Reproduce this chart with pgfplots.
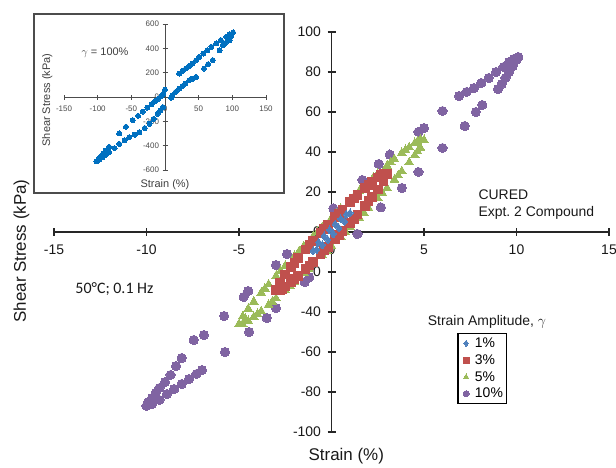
\documentclass[border=0pt]{standalone}
\usepackage{pgfplots}
\pgfplotsset{compat=1.18}
\usepackage{fontspec}
\setmainfont{Liberation Sans}
\newfontfamily\calibri{Carlito}
\definecolor{c1}{HTML}{4F81BD}
\definecolor{c3}{HTML}{C0504D}
\definecolor{c5}{HTML}{9BBB59}
\definecolor{c10}{HTML}{8064A2}
\definecolor{cin}{HTML}{0070C0}
\begin{document}
\begin{tikzpicture}
\path[use as bounding box] (-54bp,-36bp) rectangle (562bp,432bp);
\begin{axis}[
  at={(0,0)}, anchor=south west,
  scale only axis, width=555bp, height=400bp,
  xmin=-15, xmax=15, ymin=-100, ymax=100,
  axis lines=middle, axis line style={-, line width=1.5bp, black!85},
  hide obscured x ticks=false, hide obscured y ticks=false,
  xtick={-15,-10,...,15}, ytick={-100,-80,...,100},
  tick align=center, major tick length=8bp,
  tick style={line width=1.2bp, black!85},
  ticklabel style={font=\fontsize{14}{16}\selectfont, text=black!90},
  xticklabel style={yshift=-5bp},
  yticklabel style={xshift=-3bp},
  /pgf/number format/assume math mode=true,
  clip=false,
  legend style={at={(axis cs:6.8,-50.6)}, anchor=north west, draw=black, line width=1.2bp, fill=white,
    font=\fontsize{14}{15}\selectfont, inner xsep=2pt, inner ysep=2pt, row sep=1.6pt, cells={anchor=west}},
  legend image code/.code={\path (0cm,0cm) (0.42cm,0cm); \draw[#1, mark size=3bp] plot coordinates {(0.2cm,0cm)};},
  legend cell align=left,
  reverse legend,
]
\addplot[only marks, mark=*, mark size=4.6bp, mark options={draw=c10, fill=c10, line width=0pt}] coordinates {
(-10,-87) (-9.9,-85) (-9.7,-83) (-9.5,-80.5) (-9.3,-78) (-9.0,-75) (-8.7,-71.5) (-8.4,-67) (-8.1,-63)
(-7.45,-54) (-6.9,-51.5) (-5.8,-42) (-4.75,-32.5) (-4.5,-29.5) (-3.0,-16.5) (-2.4,-11) (0.1,11.8)
(1.67,26) (2.55,34) (3.15,38.7) (4.7,50) (5.0,52) (6.0,60.5) (6.9,68) (7.3,70) (7.7,72) (8.1,74.5)
(8.5,77) (8.9,80) (9.3,82.5) (9.6,85) (9.85,86.5) (10.1,87.5)
(10,86) (9.8,83) (9.6,80) (9.4,77) (9.2,74) (9.0,71.5) (8.15,63.5) (7.8,60) (7.2,53) (6.0,42) (4.7,30)
(3.8,22) (2.67,12.3) (1.4,-1) (-1.2,-22.6) (-1.45,-25) (-3.0,-38) (-3.5,-43) (-4.45,-50) (-5.76,-60)
(-7.0,-69) (-7.3,-71) (-7.7,-73.5) (-8.1,-76) (-8.5,-78.5) (-8.9,-81) (-9.3,-84) (-9.7,-86)
};
\addlegendentry{10\%}
\addplot[only marks, mark=triangle*, mark size=5bp, mark options={draw=c5, fill=c5, line width=0pt}] coordinates {
(-5,-46) (-4.8,-42.2) (-4.5,-38.4) (-4.2,-34.8) (-3.8,-30.4) (-3.4,-26.2) (-3.0,-22) (-2.5,-16.9)
(-2.0,-12) (-1.5,-7.1) (-1.0,-2.3) (-0.5,2.4) (0,7) (0.5,11.6) (1.0,16.1) (1.5,20.5) (2.0,24.8)
(2.5,29.1) (3.0,33.2) (3.4,36.4) (3.8,39.6) (4.2,42.4) (4.5,44.5) (4.8,46.2) (5,46)
(4.8,42.2) (4.5,38.4) (4.2,34.8) (3.8,30.4) (3.4,26.2) (3.0,22) (2.5,16.9) (2.0,12) (1.5,7.1)
(1.0,2.3) (0.5,-2.4) (0,-7) (-0.5,-11.6) (-1,-16.1) (-1.5,-20.5) (-2,-24.8) (-2.5,-29.1) (-3,-33.2)
(-3.4,-36.4) (-3.8,-39.6) (-4.2,-42.4) (-4.5,-44.5) (-4.8,-46.2)
(-4.65,-43.5) (-3.6,-28.3) (-2.75,-19.5) (-1.75,-9.6) (-0.75,0) (0.25,9.3) (1.25,18.3) (2.25,27) (3.2,34.8) (4.0,41) (4.65,45.4)
(4.65,40.3) (3.6,28.3) (2.75,19.5) (1.75,9.6) (0.75,0) (-0.25,-9.3) (-1.25,-18.3) (-2.25,-27) (-3.2,-34.8) (-4.0,-41)
};
\addlegendentry{5\%}
\addplot[only marks, mark=square*, mark size=4.3bp, mark options={draw=c3, fill=c3, line width=0pt}] coordinates {
(-3,-29.1) (-2.8,-25.2) (-2.5,-21.3) (-2.2,-17.6) (-1.8,-13.1) (-1.4,-8.7) (-1.0,-4.5) (-0.6,-0.4)
(-0.2,3.6) (0.2,7.4) (0.6,11.2) (1.0,14.9) (1.4,18.5) (1.8,21.9) (2.2,25.0) (2.5,27.3) (2.8,29.2) (3,29.1)
(2.8,25.2) (2.5,21.3) (2.2,17.6) (1.8,13.1) (1.4,8.7) (1.0,4.5) (0.6,0.4) (0.2,-3.6) (-0.2,-7.4)
(-0.6,-11.2) (-1.0,-14.9) (-1.4,-18.5) (-1.8,-21.9) (-2.2,-25.0) (-2.5,-27.3) (-2.8,-29.2)
(-2.0,-15.4) (-1.2,-6.6) (-0.4,1.6) (0.4,9.3) (1.2,16.7) (2.0,23.5) (2.65,28.4)
(2.0,15.4) (1.2,6.6) (0.4,-1.6) (-0.4,-9.3) (-1.2,-16.7) (-2.0,-23.5) (-2.65,-28.4)
};
\addlegendentry{3\%}
\addplot[only marks, mark=diamond*, mark size=4bp, mark options={draw=c1, fill=c1, line width=0pt}] coordinates {
(-1,-9.5) (-0.7,-5.2) (-0.4,-2.0) (-0.1,1.0) (0.2,3.9) (0.5,6.5) (0.8,8.8) (1,9.5)
(0.7,5.2) (0.4,2.0) (0.1,-1.0) (-0.2,-3.9) (-0.5,-6.5) (-0.8,-8.8)
};
\addlegendentry{1\%}
\node[font=\fontsize{17}{19}\selectfont, text=black!90] at (axis cs:0.8,-112) {Strain (\%)};
\node[font=\fontsize{17}{19}\selectfont, text=black!90, rotate=90] at (axis cs:-16.76,-9.5) {Shear Stress (kPa)};
\node[font=\fontsize{14}{17}\selectfont, text=black!90, anchor=west, align=left] at (axis cs:7.76,13.75) {CURED\\Expt.~2 Compound};
\node[font=\calibri\fontsize{16}{18}\selectfont, text=black!90, anchor=west] at (axis cs:-14.03,-28.5) {50°C; 0.1 Hz};
\node[font=\fontsize{14}{16}\selectfont, text=black!90] at (axis cs:8.4,-44.8) {Strain Amplitude, $\gamma$};
\end{axis}
\fill[white] (-20bp,239bp) rectangle (230bp,418bp);
\draw[black!70, line width=1.5bp] (-20bp,239bp) rectangle (230bp,418bp);
\begin{axis}[
  at={(10bp,262bp)}, anchor=south west,
  scale only axis, width=202bp, height=146bp,
  xmin=-150, xmax=150, ymin=-600, ymax=600,
  axis lines=middle, axis line style={-, line width=1bp, black!70},
  hide obscured x ticks=false, hide obscured y ticks=false,
  xtick={-150,-100,...,150}, ytick={-600,-400,...,600},
  tick align=center, major tick length=5bp,
  tick style={line width=0.8bp, black!70},
  ticklabel style={font=\fontsize{8}{9}\selectfont, text=black!70},
  xticklabel style={yshift=-3bp},
  /pgf/number format/assume math mode=true,
  clip=false,
]
\addplot[only marks, mark=*, mark size=2.5bp, mark options={draw=cin, fill=cin, line width=0pt}] coordinates {
(-102,-530) (-99,-512) (-96,-492) (-92,-466) (-88,-440) (-83,-410) (-68,-300) (-58,-245) (-48,-190)
(-40,-155) (-33,-120) (-26,-88) (-20,-60) (-15,-36) (-10,-15) (-6,5) (-3,25) (0,60) (21,193) (26,215)
(31,234) (36,255) (41,275) (46,300) (51,330) (57,357) (63,385) (69,412) (76,440) (83,468) (91,495)
(96,515) (101,531)
(98,500) (96,468) (90,445) (86,427) (81,385) (71,303) (64,270) (58,234) (46,165) (41,150) (36,138)
(30,110) (26,90) (21,69) (16,42) (11,14) (9,-6) (-3,-83) (-7,-110) (-11,-138) (-17,-180) (-23,-220)
(-30,-255) (-38,-289) (-45,-310) (-53,-330) (-60,-355) (-68,-385) (-75,-420) (-83,-454) (-88,-475)
(-93,-495) (-97,-512) (-100,-525)
};
\node[font=\fontsize{11}{13}\selectfont, text=black!75] at (axis cs:0,-600) [yshift=-15bp] {Strain (\%)};
\node[font=\fontsize{11}{13}\selectfont, text=black!75, rotate=90] at (axis cs:-175,-25) {Shear Stress (kPa)};
\node[font=\fontsize{11}{13}\selectfont, text=black!75] at (axis cs:-89,361) {$\gamma$ = 100\%};
\end{axis}
\end{tikzpicture}
\end{document}
